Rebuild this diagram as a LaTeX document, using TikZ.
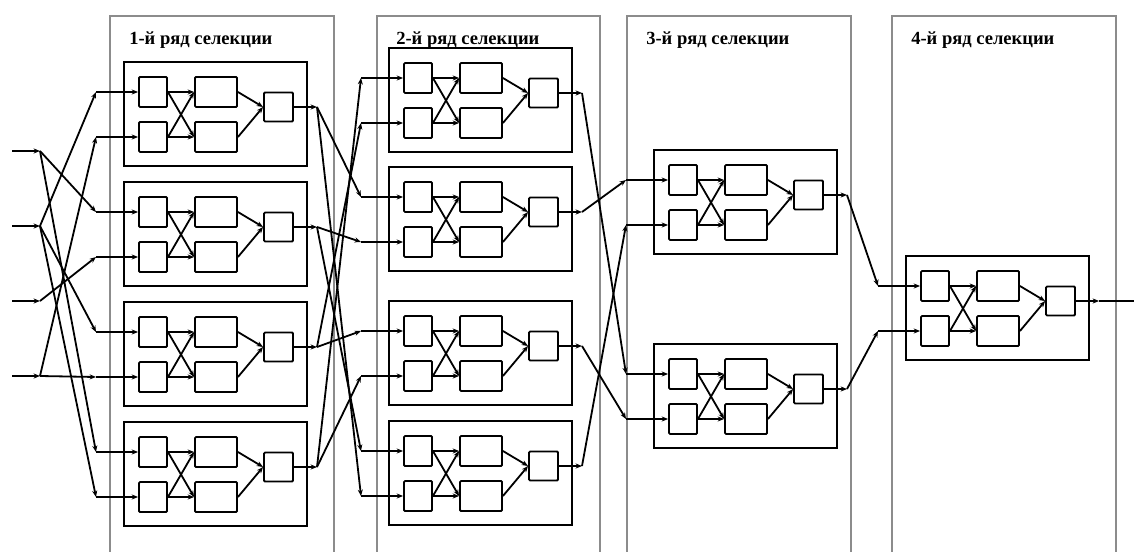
\documentclass[tikz,border=0pt]{standalone}
\usepackage{fontspec}
\setmainfont{Liberation Serif}
\usetikzlibrary{arrows.meta}

\tikzset{
  column/.style={draw=black!45, line width=1.1pt},
  coltitle/.style={anchor=base west, inner sep=0pt, font=\bfseries\fontsize{13.9}{16}\selectfont},
  frame/.style={draw, line width=1.8pt, minimum width=137.25pt, minimum height=78pt, inner sep=0pt},
  cell/.style={draw, line width=1.4pt, rounded corners=0.8pt, minimum width=21pt, minimum height=22.5pt, inner sep=0pt},
  midcell/.style={cell, minimum width=31.5pt},
  outcell/.style={cell, minimum width=21.75pt, minimum height=21.75pt},
  wire/.style={line width=1.35pt, -{Stealth[length=4.8pt,width=3.8pt]}},
}

% one selection module: name, left edge, top edge (pixel units)
\newcommand{\selmod}[3]{%
  \node[frame] (#1) at (#2+91.5,#3+52) {};
  \node[cell] (#1a) at (#2+29,#3+30) {};
  \node[cell] (#1b) at (#2+29,#3+75) {};
  \node[midcell] (#1p) at (#2+92,#3+30) {};
  \node[midcell] (#1q) at (#2+92,#3+75) {};
  \node[outcell] (#1o) at (#2+154.5,#3+45) {};
  \coordinate (#1ia) at (#2-28,#3+30);
  \coordinate (#1ib) at (#2-28,#3+75);
  \coordinate (#1out) at (#2+193,#3+45);
  \draw[wire] (#1ia) -- (#1a);
  \draw[wire] (#1ib) -- (#1b);
  \draw[wire] (#1a.east) -- (#1p.west);
  \draw[wire] (#1a.east) -- (#1q.west);
  \draw[wire] (#1b.east) -- (#1p.west);
  \draw[wire] (#1b.east) -- (#1q.west);
  \draw[wire] (#1p.east) -- (#1o.west);
  \draw[wire] (#1q.east) -- (#1o.west);
  \draw[wire] (#1o) -- (#1out);
}

\begin{document}
\begin{tikzpicture}[x=0.75pt, y=-0.75pt]
  \useasboundingbox (0,0) rectangle (1134,552);

  % selection rows
  \draw[column] (110,552) -- (110,16) -- (334,16) -- (334,552);
  \draw[column] (377,552) -- (377,16) -- (600,16) -- (600,552);
  \draw[column] (627,552) -- (627,16) -- (851,16) -- (851,552);
  \draw[column] (892,552) -- (892,16) -- (1116,16) -- (1116,552);
  \node[coltitle] (t1) at (129,44.5) {1-й ряд селекции};
  \node[coltitle] (t2) at (396,44.5) {2-й ряд селекции};
  \node[coltitle] (t3) at (646,44.5) {3-й ряд селекции};
  \node[coltitle] (t4) at (911,44.5) {4-й ряд селекции};

  % modules
  \selmod{c1m1}{124}{62}
  \selmod{c1m2}{124}{182}
  \selmod{c1m3}{124}{302}
  \selmod{c1m4}{124}{422}
  \selmod{c2m1}{389}{48}
  \selmod{c2m2}{389}{167}
  \selmod{c2m3}{389}{301}
  \selmod{c2m4}{389}{421}
  \selmod{c3m1}{654}{150}
  \selmod{c3m2}{654}{344}
  \selmod{c4m1}{906}{256}

  % inputs
  \foreach \i/\y in {1/151, 2/226, 3/301, 4/376} {
    \coordinate (in\i) at (12,\y);
    \coordinate (j\i) at (40,\y);
    \draw[wire] (in\i) -- (j\i);
  }
  \draw[wire] (j1) -- (c1m2ia);
  \draw[wire] (j1) -- (c1m4ia);
  \draw[wire] (j2) -- (c1m1ia);
  \draw[wire] (j2) -- (c1m3ia);
  \draw[wire] (j2) -- (c1m4ib);
  \draw[wire] (j3) -- (c1m2ib);
  \draw[wire] (j4) -- (c1m1ib);
  \draw[wire] (j4) -- (c1m3ib);

  % row 1 -> row 2
  \draw[wire] (c1m1out) -- (c2m2ia);
  \draw[wire] (c1m1out) -- (c2m4ib);
  \draw[wire] (c1m2out) -- (c2m2ib);
  \draw[wire] (c1m2out) -- (c2m4ia);
  \draw[wire] (c1m3out) -- (c2m3ia);
  \draw[wire] (c1m3out) -- (c2m1ib);
  \draw[wire] (c1m4out) -- (c2m3ib);
  \draw[wire] (c1m4out) -- (c2m1ia);

  % row 2 -> row 3
  \draw[wire] (c2m1out) -- (c3m2ia);
  \draw[wire] (c2m2out) -- (c3m1ia);
  \draw[wire] (c2m3out) -- (c3m2ib);
  \draw[wire] (c2m4out) -- (c3m1ib);

  % row 3 -> row 4
  \draw[wire] (c3m1out) -- (c4m1ia);
  \draw[wire] (c3m2out) -- (c4m1ib);

  % output
  \coordinate (fin) at (1134,301);
  \draw[line width=1.35pt] (c4m1out) -- (fin);
\end{tikzpicture}
\end{document}
